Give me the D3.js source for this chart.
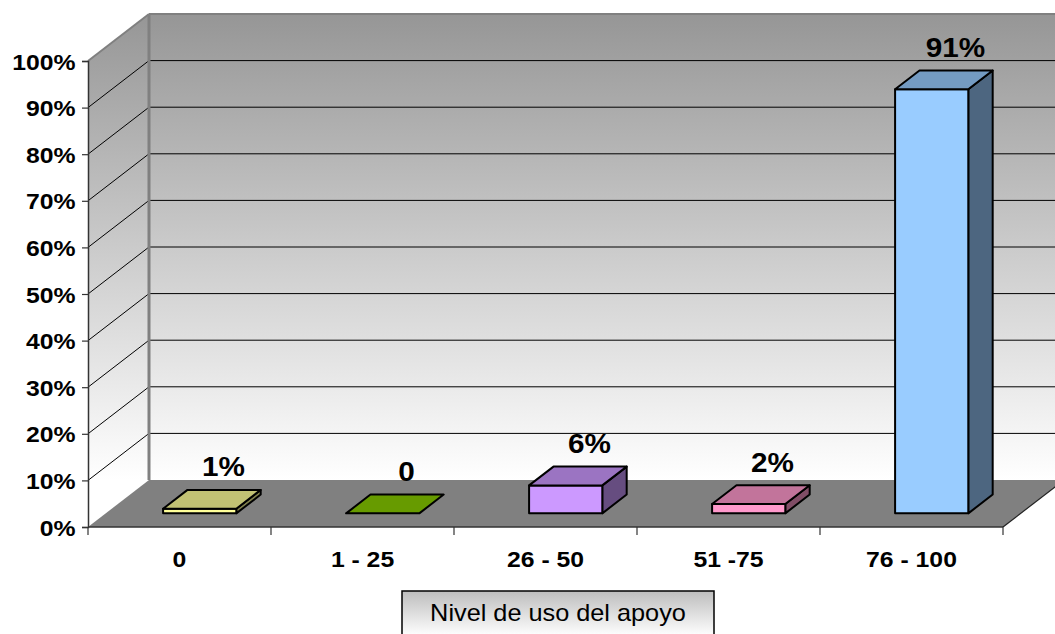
<!DOCTYPE html>
<html>
<head>
<meta charset="utf-8">
<script src="https://cdn.jsdelivr.net/npm/d3@7"></script>
<style>
  html, body { margin: 0; padding: 0; background: #ffffff; }
  svg { display: block; }
  text { font-family: "Liberation Sans", Arial, sans-serif; fill: #000; }
</style>
</head>
<body>
<svg id="chart" width="1055" height="634"></svg>
<script>
// Usage level of the support, share of respondents per band
const categories = ["0", "1 - 25", "26 - 50", "51 -75", "76 - 100"];
const values = [1, 0, 6, 2, 91];
const yTicks = [0, 10, 20, 30, 40, 50, 60, 70, 80, 90, 100];
const barColors = ["#ffff99", "#88cc00", "#cc99ff", "#ff99cc", "#99ccff"];
const axisTitle = "Nivel de uso del apoyo";

const W = 1055, H = 634;
const svg = d3.select("#chart");

// front plane of the 3D box and its depth offset
const x0 = 88, x1 = 1003, yFloor = 527, yTop = 61;
const depthX = 61, depthY = 47;
const TEXT_STRETCH = 1.1;

const y = d3.scaleLinear().domain([0, 100]).range([yFloor, yTop]);
const x = d3.scaleBand().domain(categories).range([x0, x1]).padding(0);

// project (front-plane x, value, depth 0..1) to screen
const proj = (px, v, d) => [px + d * depthX, y(v) - d * depthY];
const poly = pts => pts.map(p => p.join(",")).join(" ");

const defs = svg.append("defs");
const wallGrad = defs.append("linearGradient")
  .attr("id", "wallGrad").attr("gradientUnits", "userSpaceOnUse")
  .attr("x1", 0).attr("x2", 0).attr("y1", proj(x0, 100, 1)[1]).attr("y2", proj(x0, 0, 1)[1]);
wallGrad.append("stop").attr("offset", "0").attr("stop-color", "#969696");
wallGrad.append("stop").attr("offset", "1").attr("stop-color", "#ffffff");

const titleGrad = defs.append("linearGradient")
  .attr("id", "titleGrad").attr("x1", 0).attr("x2", 0).attr("y1", 0).attr("y2", 1);
titleGrad.append("stop").attr("offset", "0").attr("stop-color", "#bdbdbd");
titleGrad.append("stop").attr("offset", "0.75").attr("stop-color", "#ffffff");

const farRight = W + depthX + 20;

// back wall
const [bx, byTop] = proj(x0, 100, 1);
const byBottom = proj(x0, 0, 1)[1];
svg.append("rect")
  .attr("x", bx).attr("y", byTop)
  .attr("width", farRight - bx).attr("height", byBottom - byTop)
  .attr("fill", "url(#wallGrad)");

// side wall
svg.append("polygon")
  .attr("points", poly([proj(x0, 0, 0), proj(x0, 100, 0), proj(x0, 100, 1), proj(x0, 0, 1)]))
  .attr("fill", "url(#wallGrad)");

// gridlines on both walls
const grid = svg.append("g").attr("stroke", "#000").attr("stroke-width", 1);
yTicks.filter(v => v > 0 && v < 100).forEach(v => {
  const a = proj(x0, v, 0), b = proj(x0, v, 1);
  grid.append("line").attr("x1", a[0]).attr("y1", a[1]).attr("x2", b[0]).attr("y2", b[1]);
  grid.append("line").attr("x1", b[0]).attr("y1", b[1]).attr("x2", farRight).attr("y2", b[1]);
});

// wall edges
const edge = svg.append("g").attr("stroke", "#808080").attr("fill", "none");
edge.append("line").attr("x1", bx).attr("y1", byTop).attr("x2", bx).attr("y2", byBottom).attr("stroke-width", 3);
edge.append("line").attr("x1", bx).attr("y1", byTop).attr("x2", farRight).attr("y2", byTop).attr("stroke-width", 2);
edge.append("line")
  .attr("x1", proj(x0, 100, 0)[0]).attr("y1", proj(x0, 100, 0)[1])
  .attr("x2", bx).attr("y2", byTop).attr("stroke-width", 2);

// floor
svg.append("polygon")
  .attr("points", poly([proj(x0, 0, 0), proj(x1, 0, 0), proj(x1, 0, 1), proj(x0, 0, 1)]))
  .attr("fill", "#808080");
svg.append("line")
  .attr("x1", proj(x1, 0, 0)[0]).attr("y1", proj(x1, 0, 0)[1])
  .attr("x2", proj(x1, 0, 1)[0]).attr("y2", proj(x1, 0, 1)[1])
  .attr("stroke", "#222").attr("stroke-width", 1.2);

// bars
const dFront = 0.29, dBack = 0.69;
const bw = x.bandwidth() / 2.5;
const bars = svg.append("g").attr("stroke", "#000").attr("stroke-width", 2).attr("stroke-linejoin", "round");
categories.forEach((c, i) => {
  const v = values[i];
  const xl = x(c) + (x.bandwidth() - bw) / 2 + 2.5;
  const xr = xl + bw;
  const base = d3.color(barColors[i]);
  const rgb = d3.rgb(base);
  const shade = k => d3.rgb(rgb.r * k, rgb.g * k, rgb.b * k).formatHex();
  const g = bars.append("g");
  if (v > 0) {
    g.append("polygon")
      .attr("points", poly([proj(xr, 0, dFront), proj(xr, 0, dBack), proj(xr, v, dBack), proj(xr, v, dFront)]))
      .attr("fill", shade(0.5));
    g.append("polygon")
      .attr("points", poly([proj(xl, 0, dFront), proj(xr, 0, dFront), proj(xr, v, dFront), proj(xl, v, dFront)]))
      .attr("fill", base.formatHex());
  }
  g.append("polygon")
    .attr("points", poly([proj(xl, v, dFront), proj(xr, v, dFront), proj(xr, v, dBack), proj(xl, v, dBack)]))
    .attr("fill", shade(0.76));
});

// axis lines and ticks
const yAxis = d3.axisLeft(y).tickValues(yTicks).tickSize(6).tickFormat(d => d + "%");
const yg = svg.append("g").attr("transform", `translate(${x0},0)`).call(yAxis);
yg.select(".domain").attr("stroke", "#333").attr("stroke-width", 1.5);
yg.selectAll(".tick line").attr("stroke", "#333").attr("stroke-width", 1.2);
yg.selectAll(".tick text")
  .attr("x", -12.5 / TEXT_STRETCH)
  .attr("dy", "0.36em")
  .attr("transform", `scale(${TEXT_STRETCH},1)`)
  .style("font-family", '"Liberation Sans", Arial, sans-serif')
  .style("font-weight", "bold")
  .style("font-size", "22.5px")
  .attr("fill", "#000");

const xg = svg.append("g").attr("stroke", "#333");
xg.append("line").attr("x1", x0).attr("x2", x1).attr("y1", yFloor).attr("y2", yFloor).attr("stroke-width", 1.5);
const boundaries = categories.map(c => x(c)).concat([x1]);
boundaries.forEach(b => {
  xg.append("line").attr("x1", b).attr("x2", b).attr("y1", yFloor).attr("y2", yFloor + 8).attr("stroke-width", 1.2);
});

// stretched text helper
function label(parent, tx, ty, str, size, weight) {
  parent.append("text")
    .attr("transform", `translate(${tx},${ty}) scale(${TEXT_STRETCH},1)`)
    .attr("text-anchor", "middle")
    .style("font-size", size + "px")
    .style("font-weight", weight)
    .text(str);
}

// category labels
const catG = svg.append("g");
categories.forEach(c => label(catG, x(c) + x.bandwidth() / 2, 567, c, 22.5, "bold"));

// value labels
const valG = svg.append("g");
categories.forEach((c, i) => {
  const v = values[i];
  const txt = v === 0 ? "0" : v + "%";
  label(valG, x(c) + x.bandwidth() / 2 + 44, y(v) - 46, txt, 27, "bold");
});

// axis title box
const titleX = 402, titleW = 312, titleY = 591;
svg.append("rect")
  .attr("x", titleX).attr("y", titleY).attr("width", titleW).attr("height", 60)
  .attr("fill", "url(#titleGrad)").attr("stroke", "#000").attr("stroke-width", 1.5);
label(svg, titleX + titleW / 2, 621, axisTitle, 23, "normal");
</script>
</body>
</html>
